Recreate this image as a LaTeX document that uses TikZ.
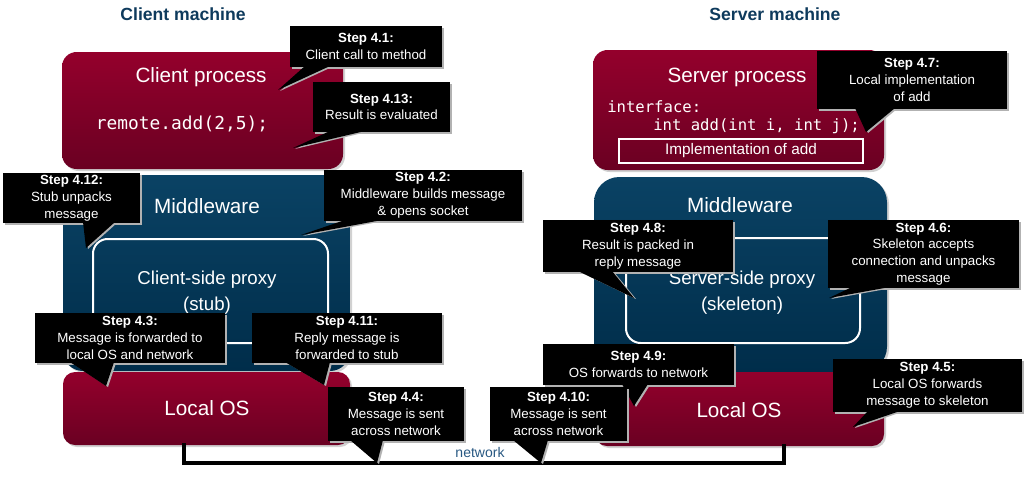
\documentclass[tikz,border=0pt]{standalone}
\usepackage{fontspec}
\setmainfont{Liberation Sans}
\setmonofont{DejaVu Sans Mono}
\usetikzlibrary{calc}
\definecolor{crimT}{RGB}{148,0,44}
\definecolor{crimB}{RGB}{106,0,34}
\definecolor{blueT}{RGB}{10,66,100}
\definecolor{blueB}{RGB}{0,45,74}
\definecolor{titleblue}{RGB}{14,58,92}
\definecolor{netblue}{RGB}{40,88,130}
\tikzset{
  crimbox/.style={top color=crimT, bottom color=crimB, draw=none, inner sep=0pt},
  bluebox/.style={top color=blueT, bottom color=blueB, draw=none, inner sep=0pt},
  proxybox/.style={draw=white, line width=1.5pt, fill=none, inner sep=0pt},
  boxshadow/.style={fill=black!18},
  calloutbox/.style={fill=black, text=white, inner sep=0pt, align=center,
    font=\fontsize{10}{12.6}\selectfont},
  calloutshadow/.style={fill=black!30},
  biglabel/.style={text=white, font=\fontsize{15.5}{18}\selectfont, inner sep=0pt},
  proxylabel/.style={text=white, font=\fontsize{14}{16.5}\selectfont, align=center, inner sep=0pt},
  codelabel/.style={text=white, inner sep=0pt},
  machinetitle/.style={text=titleblue, font=\bfseries\fontsize{13.2}{15}\selectfont, inner sep=0pt},
  netline/.style={line width=3pt, draw=black, line cap=rect},
}
% \pbox{name}{x1}{y1}{x2}{y2}{style}{radius}
\newcommand\pbox[7]{%
  \fill[boxshadow, rounded corners=#7] ({#2+2},{#3+2}) rectangle ({#4+2},{#5+2});
  \node[#6, rounded corners=#7, minimum width={(#4-#2)*0.75pt}, minimum height={(#5-#3)*0.75pt}]
    (#1) at ({(#2+#4)/2},{(#3+#5)/2}) {};%
}
% \callout{name}{x1}{y1}{x2}{y2}{wedge x1}{wedge x2}{tip x,y}{text}
\newcommand\callout[9]{%
  \coordinate (#1-tip) at (#8);
  \fill[calloutshadow] ({#2+2},{#3+2}) rectangle ({#4+2},{#5+2});
  \fill[calloutshadow] ({#6+2},{#5}) -- ({#7+2},{#5}) -- ([shift={(2,1)}]#1-tip) -- cycle;
  \node[calloutbox, minimum width={(#4-#2)*0.75pt}, minimum height={(#5-#3)*0.75pt}]
    (#1) at ({(#2+#4)/2},{(#3+#5)/2}) {#9};
  \fill[black] (#6,{#5-1}) -- (#7,{#5-1}) -- (#1-tip) -- cycle;%
}
\begin{document}
\begin{tikzpicture}[x=0.75pt,y=-0.75pt]
\useasboundingbox (0,0) rectangle (1033,479);

% titles
\node[machinetitle] (tclient) at (183,14) {Client machine};
\node[machinetitle] (tserver) at (775,14) {Server machine};

% network line
\coordinate (netL) at (184,463);
\coordinate (netR) at (784,463);

% ---------- client side ----------
\pbox{cproc}{62}{52}{343}{169}{crimbox}{11pt}
\node[biglabel] (cproclbl) at (201,77) {Client process};
\node[codelabel, font=\ttfamily\fontsize{13.4}{15}\selectfont] (ccode) at (182,124) {remote.add(2,5);};

\pbox{cmw}{63}{175}{350}{371}{bluebox}{15pt}
\node[biglabel] (cmwlbl) at (207,206) {Middleware};
\node[proxybox, rounded corners=11pt, minimum width={235*0.75pt}, minimum height={104*0.75pt}] (cproxy) at (210.5,291) {};
\node[proxylabel] (cproxylbl) at (207,293) {Client-side proxy\\[3pt](stub)};

\pbox{clos}{63}{372}{350}{445}{crimbox}{9pt}
\node[biglabel] (closlbl) at (207,408) {Local OS};

% ---------- server side ----------
\pbox{sproc}{593}{50}{884}{170}{crimbox}{11pt}
\node[biglabel] (sproclbl) at (737,77) {Server process};
\node[codelabel, anchor=west, font=\ttfamily\fontsize{11.7}{14}\selectfont] (siface) at (607,107) {interface:};
\node[codelabel, anchor=west, font=\ttfamily\fontsize{11.7}{14}\selectfont] (sadd) at (653,126) {int add(int i, int j);};
\node[draw=white, line width=1.8pt, inner sep=0pt, minimum width={244*0.75pt}, minimum height={24*0.75pt},
  text=white, font=\fontsize{11.5}{13}\selectfont] (simpl) at (741,151) {Implementation of add};

\pbox{smw}{594}{177}{887}{372}{bluebox}{19pt}
\node[biglabel] (smwlbl) at (740,205) {Middleware};
\node[proxybox, rounded corners=11pt, minimum width={234*0.75pt}, minimum height={105*0.75pt}] (sproxy) at (743,290.5) {};
\node[proxylabel] (sproxylbl) at (742,293) {Server-side proxy\\[3pt](skeleton)};

\pbox{slos}{595}{372}{884}{446}{crimbox}{9pt}
\node[biglabel] (sloslbl) at (739,410) {Local OS};

% network connector
\draw[netline] (clos.south -| netL) -- (netL) -- (netR) -- (slos.south -| netR);
\node[text=netblue, font=\fontsize{10.5}{12}\selectfont, inner sep=0pt] (netlbl) at (480,452) {network};

% ---------- callouts ----------
\callout{s41}{290}{26}{442}{67}{305}{330}{278,90}{\textbf{Step 4.1:}\\Client call to method}
\callout{s413}{313}{82}{450}{132}{330}{365}{293,148}{\textbf{Step 4.13:}\\Result is evaluated}
\callout{s412}{3}{173}{140}{223}{83}{115}{86,248}{\textbf{Step 4.12:}\\Stub unpacks\\message}
\callout{s42}{324}{170}{522}{221}{345}{382}{301,235}{\textbf{Step 4.2:}\\Middleware builds message\\\& opens socket}
\callout{s43}{35}{313}{225}{363}{70}{114}{106,386}{\textbf{Step 4.3:}\\Message is forwarded to\\local OS and network}
\callout{s411}{252}{313}{442}{363}{285}{330}{324,385}{\textbf{Step 4.11:}\\Reply message is\\forwarded to stub}
\callout{s44}{328}{387}{464}{441}{350}{383}{377,463}{\textbf{Step 4.4:}\\Message is sent\\across network}
\callout{s47}{817}{51}{1007}{109}{855}{895}{866,132}{\textbf{Step 4.7:}\\Local implementation\\of add}
\callout{s48}{543}{220}{733}{272}{578}{612}{634,298}{\textbf{Step 4.8:}\\Result is packed in\\reply message}
\callout{s46}{828}{220}{1019}{288}{852}{890}{829,298}{\textbf{Step 4.6:}\\Skeleton accepts\\connection and unpacks\\message}
\callout{s49}{543}{344}{734}{385}{622}{648}{634,406}{\textbf{Step 4.9:}\\OS forwards to network}
\callout{s410}{490}{387}{627}{441}{513}{548}{541,463}{\textbf{Step 4.10:}\\Message is sent\\across network}
\callout{s45}{833}{359}{1022}{412}{868}{900}{853,427}{\textbf{Step 4.5:}\\Local OS forwards\\message to skeleton}
\end{tikzpicture}
\end{document}
